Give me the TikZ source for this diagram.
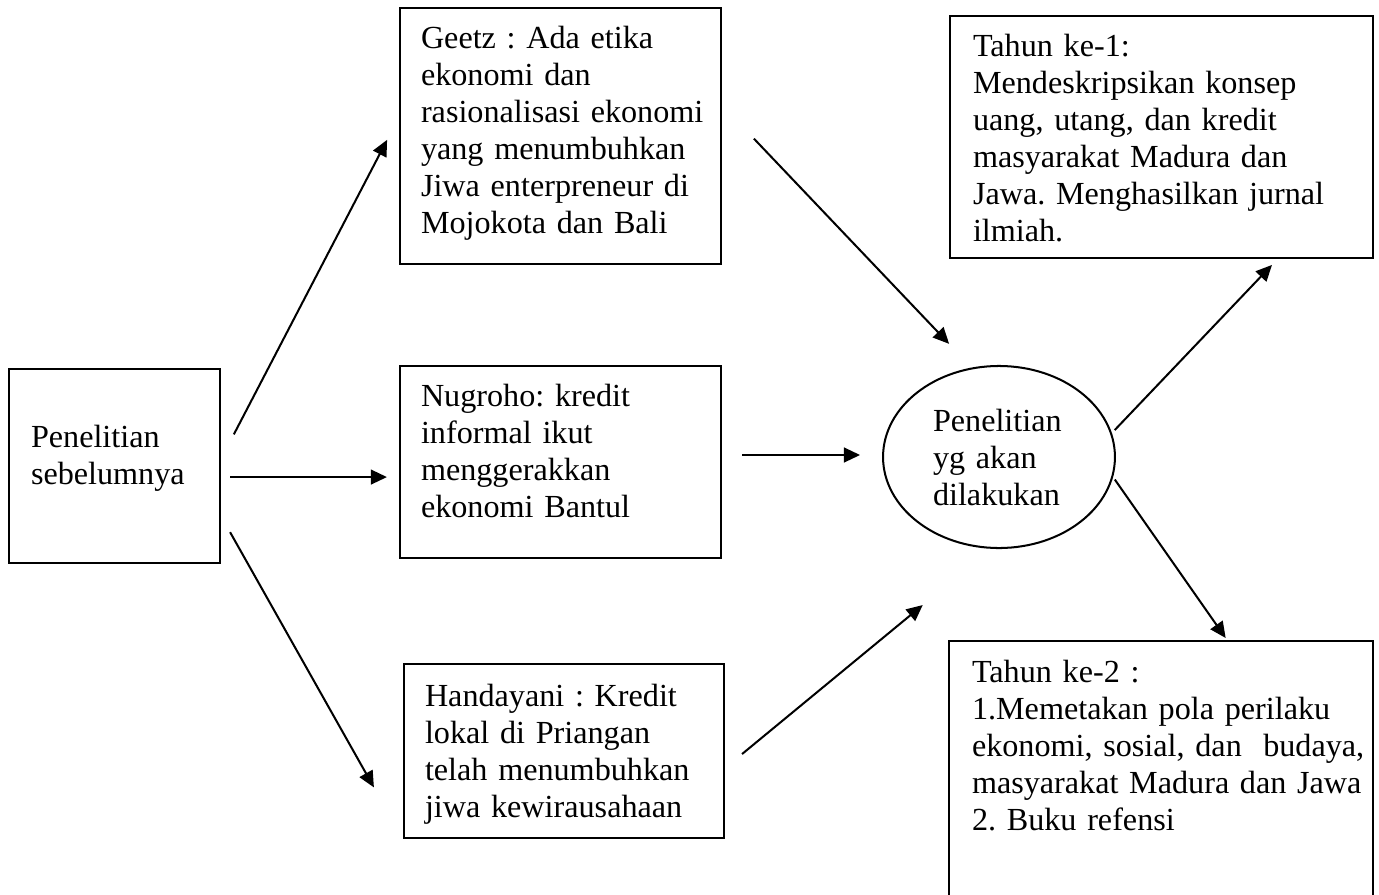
\documentclass[tikz,border=0pt]{standalone}
\usepackage{fontspec}
\setmainfont{Liberation Serif}
\usetikzlibrary{shapes.geometric, arrows.meta, calc}
\frenchspacing

\begin{document}
\begin{tikzpicture}[x=0.373pt, y=-0.373pt, line width=0.75pt,
                box/.style={rectangle, draw, inner sep=0pt, anchor=north west},
                oval/.style={ellipse, draw, inner sep=0pt},
                txt/.style={anchor=base west, inner sep=0pt, text width=165pt, align=left, font=\fontsize{12}{13.85}\selectfont},
                arr/.style={-{Triangle[length=6pt, width=5.5pt]}}]
                \useasboundingbox (0,0) rectangle (1379,895);

                % kotak dan elips
                \node[box, minimum width=78.7pt, minimum height=72.4pt] (sebelum) at (8,368) {};
                \node[box, minimum width=119.7pt, minimum height=95.5pt] (geetz) at (399,7) {};
                \node[box, minimum width=119.7pt, minimum height=71.6pt] (nugroho) at (399,365) {};
                \node[box, minimum width=119.4pt, minimum height=64.9pt] (handayani) at (403,663) {};
                \node[oval, minimum width=86.5pt, minimum height=67.9pt] (penelitian) at (999,457) {};
                \node[box, minimum width=157.8pt, minimum height=90.3pt] (tahun1) at (949,15) {};
                \node[box, minimum width=158.2pt, minimum height=100.7pt] (tahun2) at (948,640) {};

                % teks
                \node[txt] (sebelumtxt) at (30,447) {Penelitian\\sebelumnya};
                \node[txt] (geetztxt) at (420,48) {Geetz : Ada etika\\ekonomi dan\\rasionalisasi ekonomi\\yang menumbuhkan\\Jiwa enterpreneur di\\Mojokota dan Bali};
                \node[txt] (nugrohotxt) at (420,406) {Nugroho: kredit\\informal ikut\\menggerakkan\\ekonomi Bantul};
                \node[txt] (handayanitxt) at (424,706) {Handayani : Kredit\\lokal di Priangan\\telah menumbuhkan\\jiwa kewirausahaan};
                \node[txt] (penelitiantxt) at (932,431) {Penelitian\\yg akan\\dilakukan};
                \node[txt] (tahun1txt) at (972,56) {Tahun ke-1:\\Mendeskripsikan konsep\\uang, utang, dan kredit\\masyarakat Madura dan\\Jawa. Menghasilkan jurnal\\ilmiah.};
                \node[txt] (tahun2txt) at (971,682) {Tahun ke-2 :\\1.Memetakan pola perilaku\\ekonomi, sosial, dan\ \ budaya,\\masyarakat Madura dan Jawa\\2. Buku refensi};

                % panah
                \draw[arr, shorten <=10.4pt, shorten >=9.6pt] ($(sebelum.east)+(0,-7)$) -- ($(geetz.west)+(0,-19)$);
                \draw[arr, shorten <=3.4pt, shorten >=4.5pt] ($(sebelum.east)+(0,11)$) -- ($(sebelum.east -| nugroho.west)+(0,11)$);
                \draw[arr, shorten <=6.9pt, shorten >=22.1pt] ($(sebelum.east)+(0,50)$) -- (handayani.south west);
                \draw[arr, shorten <=17.3pt, shorten >=12.2pt] ($(geetz.east)+(0,-31)$) -- (penelitian.107);
                \draw[arr, shorten <=7.5pt, shorten >=8.2pt] ($(nugroho.east |- penelitian.west)+(0,-2)$) -- ($(penelitian.west)+(0,-2)$);
                \draw[arr, shorten <=8.2pt, shorten >=33pt] ($(handayani.east)+(0,17)$) -- (penelitian.265);
                \draw[arr, shorten <=1.5pt, shorten >=3pt] (penelitian.12) -- ($(tahun1.south)+(116,0)$);
                \draw[arr, shorten <=1.1pt, shorten >=0.9pt] (penelitian.-10) -- ($(tahun2.north)+(66,0)$);
            \end{tikzpicture}
\end{document}
